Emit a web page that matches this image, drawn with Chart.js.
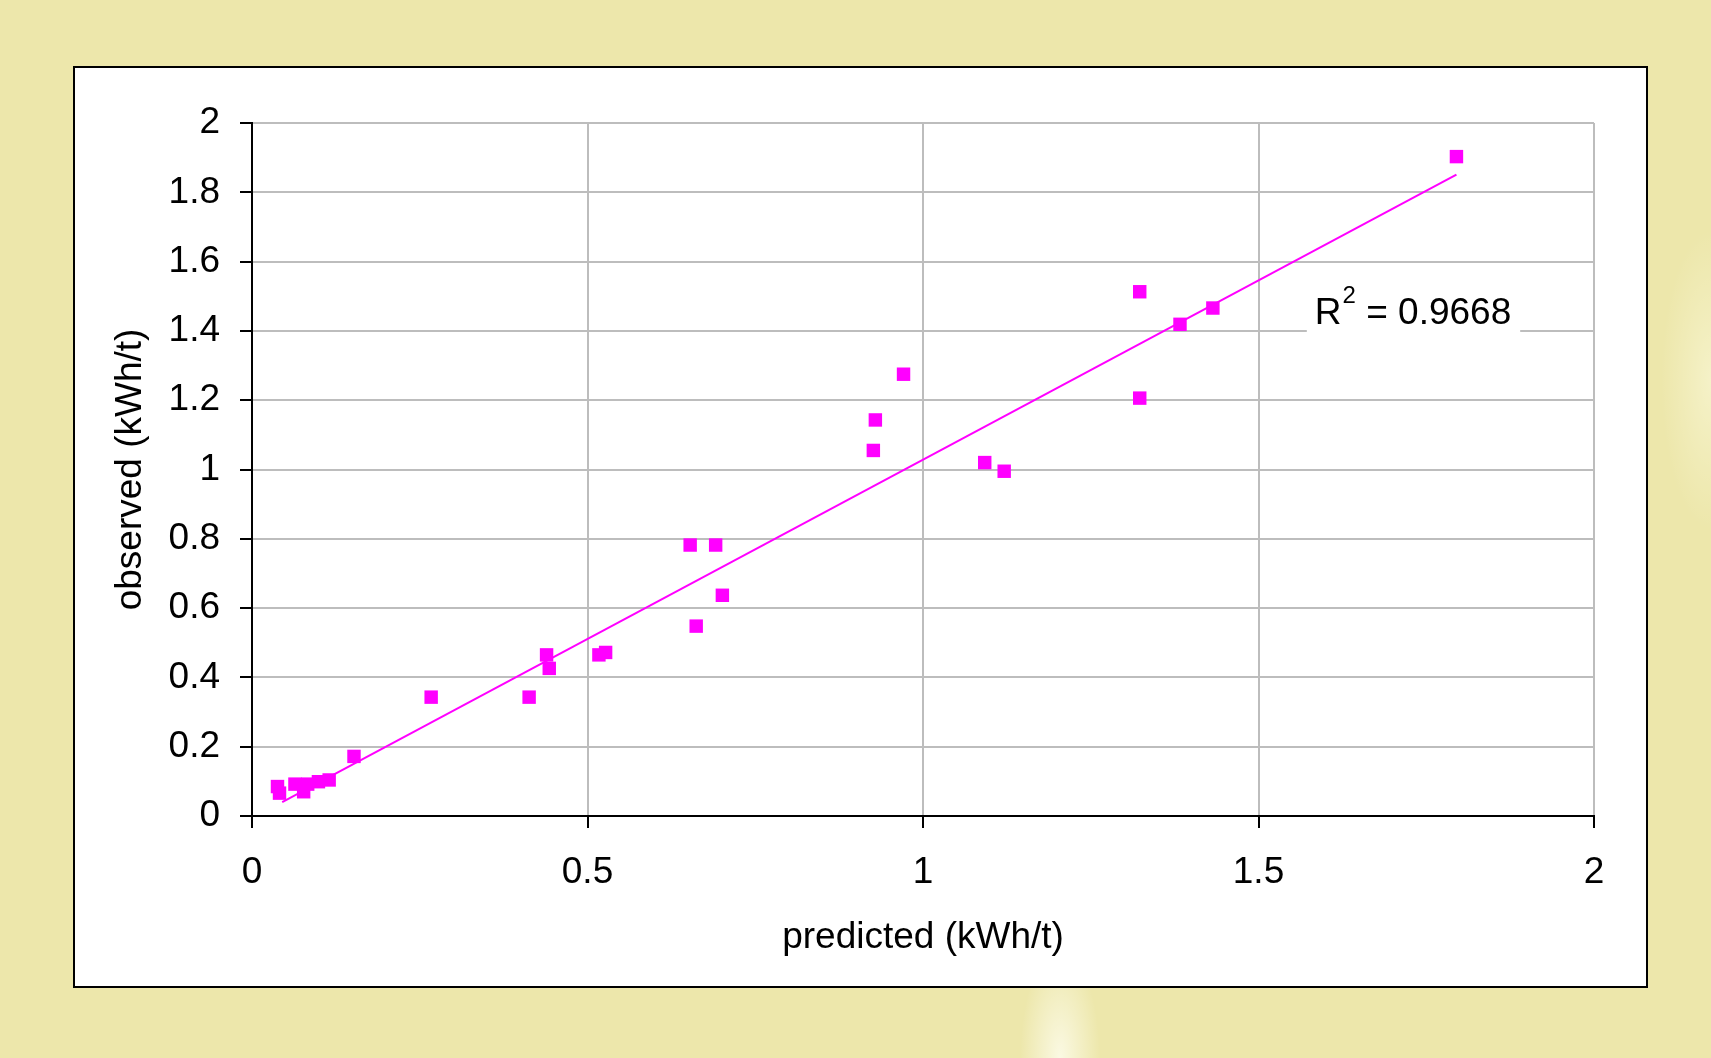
<!DOCTYPE html>
<html>
<head>
<meta charset="utf-8">
<script src="https://cdn.jsdelivr.net/npm/chart.js@4.4.1/dist/chart.umd.min.js"></script>
<style>
  html, body { margin: 0; padding: 0; }
  body {
    width: 1711px;
    height: 1058px;
    overflow: hidden;
    position: relative;
    background:
      radial-gradient(ellipse 40px 110px at 1060px 1058px, rgba(255, 255, 245, 0.75), rgba(255, 255, 245, 0)),
      radial-gradient(ellipse 50px 150px at 1711px 380px, rgba(255, 255, 235, 0.45), rgba(255, 255, 235, 0)),
      rgb(237, 231, 171);
  }
  #frame {
    position: absolute;
    left: 73px;
    top: 66px;
    width: 1575px;
    height: 922px;
    box-sizing: border-box;
    border: 2px solid #000;
    background: #fff;
  }
  #chart { display: block; }
</style>
</head>
<body>
<div id="frame">
  <canvas id="chart" width="1571" height="918"></canvas>
</div>
<script>
// predicted vs observed energy (kWh/t)
const predicted = [0.038, 0.041, 0.064, 0.077, 0.083, 0.099, 0.115, 0.152,
                   0.267, 0.413, 0.439, 0.443, 0.517, 0.527, 0.653, 0.691,
                   0.662, 0.701, 0.926, 0.929, 0.971, 1.092, 1.121, 1.323,
                   1.323, 1.383, 1.432, 1.795];
const observed  = [0.085, 0.066, 0.092, 0.070, 0.092, 0.099, 0.104, 0.172,
                   0.343, 0.343, 0.465, 0.426, 0.465, 0.472, 0.782, 0.782,
                   0.548, 0.637, 1.055, 1.143, 1.275, 1.020, 0.995, 1.513,
                   1.206, 1.419, 1.466, 1.903];

// linear trend line as drawn in the picture (ends)
const trendX = [0.045, 1.795];
const trendY = [0.040, 1.851];

const xTicks = [0, 0.5, 1, 1.5, 2];
const yTicks = [0, 0.2, 0.4, 0.6, 0.8, 1, 1.2, 1.4, 1.6, 1.8, 2];
const rSquared = "0.9668";

const FONT = "'Liberation Sans', Arial, sans-serif";
const MAGENTA = "#ff00ff";

const points = predicted.map((x, i) => ({ x, y: observed[i] }));
const trend  = trendX.map((x, i) => ({ x, y: trendY[i] }));

// R² label with a white box that hides the grid line behind it
const r2Label = {
    id: "r2Label",
    afterDatasetsDraw(chart) {
        const { ctx, scales: { x, y } } = chart;
        const left  = x.getPixelForValue(1.572);
        const right = x.getPixelForValue(1.89);
        const base  = y.getPixelForValue(1.421);

        ctx.save();
        ctx.fillStyle = "#fff";
        ctx.fillRect(left, base - 37, right - left, 49);

        ctx.fillStyle = "#000";
        ctx.textBaseline = "alphabetic";
        ctx.textAlign = "left";
        let tx = x.getPixelForValue(1.584);
        ctx.font = `37px ${FONT}`;
        ctx.fillText("R", tx, base);
        tx += ctx.measureText("R").width + 1;
        ctx.font = `24px ${FONT}`;
        ctx.fillText("2", tx, base - 21);
        tx += ctx.measureText("2").width;
        ctx.font = `37px ${FONT}`;
        ctx.fillText(" = " + rSquared, tx, base);
        ctx.restore();
    }
};

Chart.defaults.font.family = FONT;
Chart.defaults.color = "#000";

const gridStyle = {
    color: "#bdbdbd",
    lineWidth: 2,
    tickLength: 12,
    tickColor: "#000",
    tickWidth: 2,
};

new Chart(document.getElementById("chart"), {
    type: "scatter",
    data: {
        datasets: [
            {
                type: "line",
                label: "trend",
                data: trend,
                borderColor: MAGENTA,
                borderWidth: 2,
                pointRadius: 0,
                fill: false,
                order: 0,
            },
            {
                label: "observed",
                data: points,
                pointStyle: "rect",
                pointRadius: 9.5,
                pointHoverRadius: 9.5,
                backgroundColor: MAGENTA,
                borderWidth: 0,
                order: 1,
            },
        ]
    },
    options: {
        responsive: false,
        animation: false,
        events: [],
        layout: { padding: { top: 55, right: 52, bottom: 0, left: 0 } },
        plugins: {
            legend: { display: false },
            tooltip: { enabled: false },
        },
        scales: {
            x: {
                type: "linear",
                min: 0,
                max: 2,
                afterBuildTicks: s => { s.ticks = xTicks.map(value => ({ value })); },
                afterFit: s => { s.height = 170; },
                ticks: {
                    font: { size: 37 },
                    padding: 23,
                    maxRotation: 0,
                    callback: v => String(+v.toFixed(1)),
                },
                grid: gridStyle,
                border: { color: "#000", width: 2 },
                title: {
                    display: true,
                    text: "predicted (kWh/t)",
                    font: { size: 37 },
                    padding: { top: 0, bottom: 26 },
                },
            },
            y: {
                type: "linear",
                min: 0,
                max: 2,
                afterBuildTicks: s => { s.ticks = yTicks.map(value => ({ value })); },
                afterFit: s => { s.width = 177; },
                ticks: {
                    font: { size: 37 },
                    padding: 20,
                    callback: v => String(+v.toFixed(1)),
                },
                grid: gridStyle,
                border: { color: "#000", width: 2 },
                title: {
                    display: true,
                    text: "observed (kWh/t)",
                    font: { size: 37 },
                    padding: { top: 34, bottom: 0 },
                },
            },
        }
    },
    plugins: [r2Label]
});
</script>
</body>
</html>
